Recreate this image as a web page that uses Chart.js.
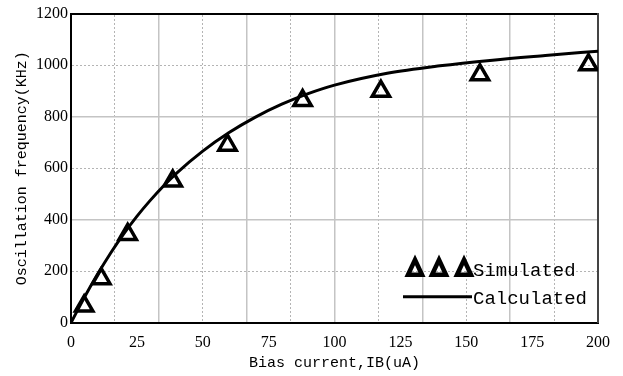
<!DOCTYPE html>
<html>
<head>
<meta charset="utf-8">
<script src="https://cdn.jsdelivr.net/npm/chart.js@4.4.1/dist/chart.umd.min.js"></script>
<style>
  html, body { margin: 0; padding: 0; background: #fff; }
  #wrap { width: 623px; height: 376px; }
</style>
</head>
<body>
<div id="wrap"><canvas id="chart"></canvas></div>
<script>
// simulated points (triangles)
const simCurrent = [5, 11.5, 21.5, 38.6, 59.4, 87.9, 117.6, 155.2, 196.4];
const simFreq = [65, 171, 343, 550, 689, 862, 898, 962, 1001];
// calculated curve
const calcCurrent = [0, 5, 10, 15, 20, 25, 30, 35, 40, 50, 60, 70, 80, 90, 100, 120, 140, 160, 180, 200];
const calcFreq = [0, 97, 187, 270, 345, 413, 474, 530, 580, 666, 738, 798, 848, 889, 922, 968, 997, 1019, 1037, 1054];
const xTicks = [0, 25, 50, 75, 100, 125, 150, 175, 200];
const yTicks = [0, 200, 400, 600, 800, 1000, 1200];

const monoFont = '"Liberation Mono", monospace';
const serifFont = '"Liberation Serif", serif';

// legend drawn inside the plot, bottom right
const insideLegend = {
  id: 'insideLegend',
  afterDraw(chart) {
    const c = chart.ctx;
    const a = chart.chartArea;
    const x0 = a.right - 195;
    c.save();
    c.strokeStyle = '#000';
    c.lineWidth = 4.5;
    [12, 36, 61].forEach(dx => {
      const cx = x0 + dx;
      c.beginPath();
      c.moveTo(cx, a.bottom - 63);
      c.lineTo(cx + 7, a.bottom - 48);
      c.lineTo(cx - 7, a.bottom - 48);
      c.closePath();
      c.stroke();
    });
    c.lineWidth = 3;
    c.beginPath();
    c.moveTo(x0, a.bottom - 26);
    c.lineTo(x0 + 69, a.bottom - 26);
    c.stroke();
    c.fillStyle = '#000';
    c.font = '19px ' + monoFont;
    c.textBaseline = 'alphabetic';
    c.fillText('Simulated', x0 + 70, a.bottom - 47);
    c.fillText('Calculated', x0 + 70, a.bottom - 19);
    c.restore();
  }
};

const ctx = document.getElementById('chart').getContext('2d');
const myChart = new Chart(ctx, {
  type: 'scatter',
  data: {
    datasets: [{
      label: 'Simulated',
      data: simCurrent.map((v, i) => ({x: v, y: simFreq[i]})),
      pointStyle: 'triangle',
      pointRadius: 10,
      pointBorderWidth: 3.5,
      pointBorderColor: '#000',
      pointBackgroundColor: 'rgba(255,255,255,0)',
      showLine: false,
      order: 0
    }, {
      label: 'Calculated',
      data: calcCurrent.map((v, i) => ({x: v, y: calcFreq[i]})),
      showLine: true,
      borderColor: '#000',
      borderWidth: 3,
      pointRadius: 0,
      cubicInterpolationMode: 'monotone',
      order: 1
    }]
  },
  options: {
    responsive: true,
    maintainAspectRatio: false,
    animation: false,
    layout: { padding: { top: 8, right: 25, left: 13, bottom: 4 } },
    plugins: {
      legend: { display: false },
      tooltip: { enabled: false }
    },
    scales: {
      x: {
        type: 'linear',
        min: 0,
        max: 200,
        afterBuildTicks: s => { s.ticks = xTicks.map(v => ({value: v})); },
        grid: { display: false },
        border: { display: true, color: '#000', width: 2 },
        ticks: { color: '#000', font: { family: serifFont, size: 16 }, padding: 2, maxRotation: 0, callback: v => String(v) },
        title: {
          display: true,
          text: 'Bias current,IB(uA)',
          color: '#000',
          font: { family: monoFont, size: 15 },
          padding: { top: 0, bottom: 0 }
        }
      },
      xgrid: {
        type: 'linear',
        position: 'top',
        min: 0,
        max: 12,
        ticks: { display: false, stepSize: 1 },
        grid: {
          drawTicks: false,
          tickLength: 0,
          color: c => (c.tick && (c.tick.value === 0 || c.tick.value === 12)) ? 'rgba(0,0,0,0)' :
            (c.tick && c.tick.value % 2 === 0 ? '#c4c4c4' : '#b4b4b4'),
          lineWidth: c => (c.tick && c.tick.value % 2 === 0) ? 1.5 : 1
        },
        border: {
          display: true, color: '#000', width: 2,
          dash: c => (c.tick && c.tick.value % 2 === 1) ? [2, 2] : []
        }
      },
      y: {
        type: 'linear',
        min: 0,
        max: 1200,
        afterBuildTicks: s => { s.ticks = yTicks.map(v => ({value: v})); },
        grid: {
          drawTicks: false,
          color: c => (c.tick && (c.tick.value === 0 || c.tick.value === 1200)) ? 'rgba(0,0,0,0)' :
            (c.tick && c.tick.value % 400 === 0 ? '#c4c4c4' : '#b4b4b4'),
          lineWidth: c => (c.tick && c.tick.value % 400 === 0) ? 1.5 : 1
        },
        border: {
          display: true, color: '#000', width: 2,
          dash: c => (c.tick && c.tick.value % 400 !== 0) ? [2, 2] : []
        },
        ticks: { color: '#000', font: { family: serifFont, size: 16 }, padding: 3, callback: v => String(v) },
        title: {
          display: true,
          text: 'Oscillation frequency(KHz)',
          color: '#000',
          font: { family: monoFont, size: 15 },
          padding: { top: 0, bottom: 2 }
        }
      },
      yright: {
        type: 'linear',
        position: 'right',
        min: 0,
        max: 1200,
        ticks: { display: false },
        grid: { display: false, drawTicks: false, tickLength: 0 },
        border: { display: true, color: '#444', width: 2 }
      }
    }
  },
  plugins: [insideLegend]
});
</script>
</body>
</html>
